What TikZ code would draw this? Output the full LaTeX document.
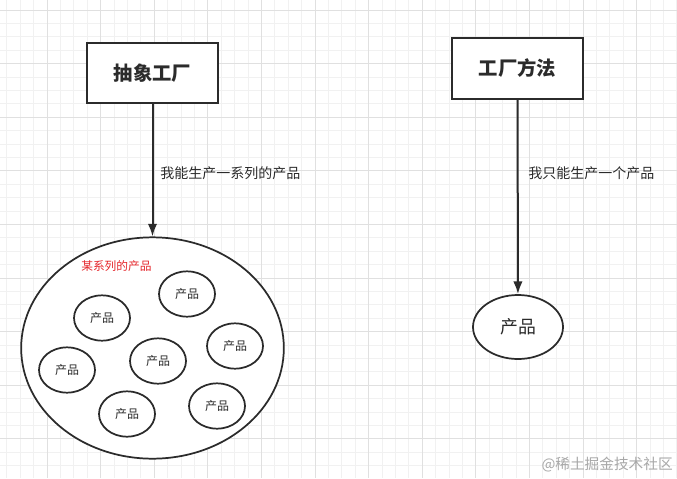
\documentclass[tikz,border=0pt]{standalone}
\usepackage{fontspec}
\setmainfont{Noto Sans CJK SC}
\usetikzlibrary{shapes.geometric,arrows.meta}
\definecolor{ink}{HTML}{2B2B2B}
\definecolor{gridminor}{HTML}{F1F1F1}
\definecolor{gridmajor}{HTML}{E0E0E0}
\definecolor{famred}{HTML}{E5252A}
\definecolor{mark}{HTML}{A8A8A8}
\begin{document}
\begin{tikzpicture}[x=0.75pt, y=-0.75pt, >={Latex[length=9.5pt,width=7pt]},
    factory/.style={draw=ink, line width=1.5pt, fill=white, minimum width=98pt, minimum height=45pt, inner sep=0pt, font=\bfseries\fontsize{14.5}{16}\selectfont, text=ink},
    product/.style={ellipse, draw=ink, line width=1.3pt, fill=white, minimum width=42pt, minimum height=34pt, inner sep=0pt, font=\fontsize{9}{10}\selectfont, text=ink},
    family/.style={ellipse, draw=ink, line width=1.3pt, fill=white, minimum width=197pt, minimum height=166pt, inner sep=0pt},
    flow/.style={->, draw=ink, line width=1.5pt},
    note/.style={anchor=west, inner sep=0pt, text=ink, font=\fontsize{10.5}{12}\selectfont}]
\useasboundingbox (0,0) rectangle (677,478);
\fill[white] (0,0) rectangle (677,478);
% grid
\foreach \i in {0,...,50}{
  \draw[gridminor, line width=0.6pt] (6.7+13.4*\i,0) -- (6.7+13.4*\i,478);
  \draw[gridminor, line width=0.6pt] (0,-3.4+13.4*\i) -- (677,-3.4+13.4*\i);
}
\foreach \i in {0,...,12}{
  \draw[gridmajor, line width=0.6pt] (46.9+53.6*\i,0) -- (46.9+53.6*\i,478);
  \draw[gridmajor, line width=0.6pt] (0,10+53.6*\i) -- (677,10+53.6*\i);
}
% left: abstract factory
\node[factory] (abs) at (152.5,73) {抽象工厂};
\node[family] (fam) at (152.5,348) {};
\draw[flow] (abs) -- (fam);
\node[note] (absnote) at (160,173) {我能生产一系列的产品};
\node[anchor=west, inner sep=0pt, text=famred, font=\fontsize{8.8}{10}\selectfont] (famlabel) at (81,266) {某系列的产品};
\node[product] (p1) at (187,294) {产品};
\node[product] (p2) at (102,318) {产品};
\node[product] (p3) at (67,370) {产品};
\node[product] (p4) at (158,361) {产品};
\node[product] (p5) at (235,346) {产品};
\node[product] (p6) at (127,414) {产品};
\node[product] (p7) at (217,406) {产品};
% right: factory method
\node[factory] (meth) at (517.5,68.5) {工厂方法};
\node[product, minimum width=67.5pt, minimum height=48pt, font=\fontsize{13.4}{15}\selectfont] (single) at (518,327) {产品};
\draw[flow] (meth) -- (single);
\node[note] (methnote) at (528,173) {我只能生产一个产品};
\node[anchor=east, inner sep=0pt, text=mark, font=\fontsize{11}{12}\selectfont] (wm) at (673,465) {@稀土掘金技术社区};
\end{tikzpicture}
\end{document}
